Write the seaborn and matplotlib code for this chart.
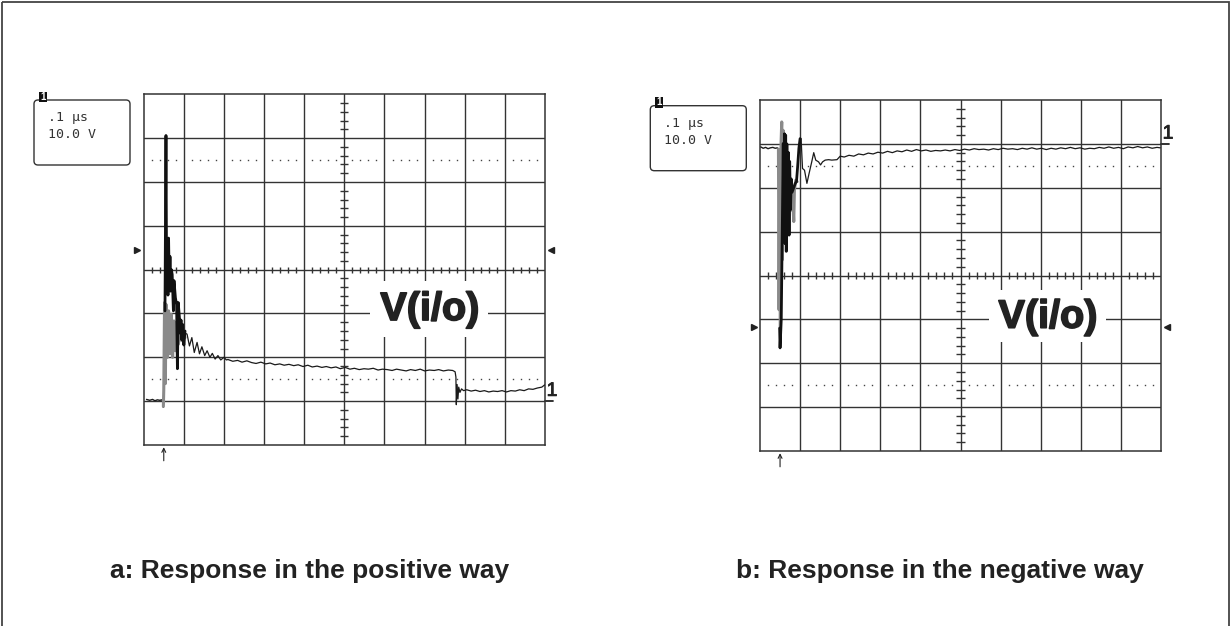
import numpy as np
import pandas as pd
import matplotlib
matplotlib.use("Agg")
import matplotlib.pyplot as plt
import matplotlib.patheffects as pe
from matplotlib.patches import Rectangle, FancyBboxPatch
import seaborn as sns

W, H = 1231, 626

# scope traces, in screen divisions (x: -5..5, y: -4..4)
# --- a: positive step ---
pos_base_t = [-4.93, -4.85, -4.78, -4.72, -4.66, -4.60, -4.55, -4.52, -4.51]
pos_base_v = [-2.96, -2.98, -2.96, -2.99, -2.97, -2.98, -2.97, -3.00, -3.14]

pos_gray_t = [-4.51, -4.50, -4.48, -4.46, -4.445, -4.41, -4.38, -4.345, -4.31,
              -4.28, -4.245, -4.21, -4.175, -4.135, -4.09, -4.05, -4.01, -3.97]
pos_gray_v = [-3.12, -2.75, -0.75, -2.60, -0.79, -2.00, -0.94, -1.92, -1.02,
              -2.00, -1.17, -1.85, -1.25, -1.70, -1.32, -1.62, -1.40, -1.55]

pos_black_t = [-4.47, -4.445, -4.43, -4.41, -4.395, -4.38, -4.36, -4.345, -4.33,
               -4.31, -4.29, -4.26, -4.245, -4.21, -4.18, -4.16, -4.14, -4.11,
               -4.09, -4.07, -4.05, -4.03, -4.00, -3.97]
pos_black_v = [-0.94, 3.06, -0.04, 0.68, -0.58, 0.72, -0.45, 0.30, -0.49,
               0.00, -0.11, -0.94, -0.25, -0.64, -0.80, -2.26, -0.75, -1.09,
               -1.45, -1.15, -1.60, -1.25, -1.72, -1.40]

pos_tail_t = [-3.97, -3.92, -3.86, -3.80, -3.74, -3.67, -3.61, -3.55, -3.48,
              -3.42, -3.35, -3.29, -3.22, -3.15, -3.08, -3.00, -2.94,
              -2.90, -2.78, -2.66, -2.55, -2.43, -2.31, -2.20, -2.08, -1.96, -1.85,
              -1.73, -1.61, -1.50, -1.38, -1.26, -1.15, -1.03, -0.91, -0.80, -0.68,
              -0.56, -0.45, -0.33, -0.21, -0.10, 0.02, 0.14, 0.25, 0.37, 0.49,
              0.60, 0.72, 0.84, 0.95, 1.07, 1.19, 1.30, 1.42, 1.54, 1.65,
              1.77, 1.89, 2.00, 2.12, 2.24, 2.35, 2.47, 2.59, 2.70, 2.76,
              2.78, 2.79, 2.81, 2.83, 2.85, 2.88, 2.92, 2.97,
              3.05, 3.16, 3.27, 3.38, 3.49, 3.60, 3.71, 3.82, 3.93, 4.04,
              4.15, 4.26, 4.37, 4.48, 4.59, 4.70, 4.81, 4.92, 4.99]
pos_tail_v = [-1.45, -1.47, -1.74, -1.55, -1.89, -1.66, -1.92, -1.76, -1.96,
              -1.85, -2.00, -1.91, -2.04, -1.96, -2.06, -2.00, -2.06,
              -2.05, -2.09, -2.07, -2.11, -2.08, -2.12, -2.14, -2.11, -2.15, -2.13,
              -2.17, -2.15, -2.18, -2.16, -2.19, -2.17, -2.21, -2.18, -2.22, -2.20,
              -2.23, -2.21, -2.24, -2.22, -2.26, -2.23, -2.27, -2.25, -2.28, -2.26,
              -2.27, -2.25, -2.29, -2.27, -2.28, -2.30, -2.27, -2.29, -2.31, -2.28,
              -2.30, -2.27, -2.31, -2.29, -2.30, -2.28, -2.31, -2.29, -2.30, -2.33,
              -2.45, -3.08, -2.62, -2.95, -2.68, -2.80, -2.72, -2.76,
              -2.74, -2.77, -2.75, -2.78, -2.76, -2.79, -2.77, -2.78, -2.76, -2.79,
              -2.76, -2.77, -2.74, -2.76, -2.72, -2.73, -2.70, -2.68, -2.63]

# --- b: negative step ---
neg_base_t = [-4.98, -4.92, -4.86, -4.80, -4.74, -4.68, -4.62, -4.57, -4.54]
neg_base_v = [2.93, 2.90, 2.92, 2.89, 2.91, 2.92, 2.90, 2.91, 2.88]

neg_gray_t = [-4.54, -4.525, -4.508, -4.492, -4.475, -4.458, -4.442, -4.425,
              -4.408, -4.392, -4.375, -4.358, -4.325, -4.292, -4.258, -4.225,
              -4.192, -4.158, -4.142, -4.108, -4.075]
neg_gray_v = [2.88, -0.78, 2.70, -1.23, 3.01, 3.50, 0.36, 3.31,
              0.73, 2.86, 1.11, 2.63, 1.27, 2.25, 1.95, 1.49,
              1.87, 1.23, 1.95, 2.17, 2.14]

neg_black_t = [-4.51, -4.50, -4.47, -4.42, -4.41, -4.39, -4.375, -4.36, -4.345,
               -4.33, -4.31, -4.29, -4.275, -4.26, -4.24, -4.22, -4.20, -4.12,
               -4.09, -4.06, -4.03, -4.00]
neg_black_v = [-1.20, -1.65, -1.00, 3.01, 0.90, 3.23, 0.73, 3.20, 0.55,
               3.00, 1.20, 2.80, 0.92, 2.60, 1.50, 2.20, 1.90, 2.10,
               2.14, 2.50, 2.90, 3.12]

neg_tail_t = [-3.975, -3.94, -3.89, -3.83, -3.775, -3.71, -3.66, -3.61, -3.54,
              -3.49, -3.44, -3.375, -3.29, -3.21, -3.08, -3.00,
              -2.90, -2.78, -2.66, -2.54, -2.42, -2.30, -2.18, -2.06, -1.94, -1.82,
              -1.70, -1.58, -1.46, -1.34, -1.22, -1.10, -0.98, -0.86, -0.74, -0.62,
              -0.50, -0.38, -0.26, -0.14, -0.02, 0.10, 0.22, 0.34, 0.46, 0.58,
              0.70, 0.82, 0.94, 1.06, 1.18, 1.30, 1.42, 1.54, 1.66, 1.78,
              1.90, 2.02, 2.14, 2.26, 2.38, 2.50, 2.62, 2.74, 2.86, 2.98,
              3.10, 3.22, 3.34, 3.46, 3.58, 3.70, 3.82, 3.94, 4.06, 4.18,
              4.30, 4.42, 4.54, 4.66, 4.78, 4.90, 4.98]
neg_tail_v = [3.12, 2.44, 2.40, 2.10, 2.33, 2.59, 2.80, 2.63, 2.59,
              2.52, 2.59, 2.63, 2.64, 2.63, 2.64, 2.72,
              2.70, 2.74, 2.72, 2.77, 2.75, 2.79, 2.77, 2.81, 2.79, 2.83,
              2.80, 2.84, 2.82, 2.86, 2.83, 2.87, 2.84, 2.86, 2.83, 2.85,
              2.84, 2.86, 2.84, 2.87, 2.85, 2.88, 2.86, 2.89, 2.87, 2.88,
              2.86, 2.89, 2.87, 2.90, 2.88, 2.89, 2.87, 2.90, 2.88, 2.91,
              2.88, 2.90, 2.87, 2.90, 2.88, 2.91, 2.89, 2.92, 2.89, 2.91,
              2.88, 2.90, 2.89, 2.92, 2.90, 2.93, 2.90, 2.92, 2.89, 2.93,
              2.91, 2.94, 2.91, 2.93, 2.90, 2.92, 2.91]

captions = ["a: Response in the positive way", "b: Response in the negative way"]
scope_info = [".1 \u00b5s", "10.0 V"]
signal_name = "V(i/o)"

GRID = "#333333"
INK = "#222222"

sns.set_style("white")
plt.rcParams["font.family"] = ["Liberation Sans", "DejaVu Sans"]

fig = plt.figure(figsize=(W / 100, H / 100), dpi=100)

# overlay in pixel coords for the frame, readout boxes and captions
ov = fig.add_axes([0, 0, 1, 1])
ov.set_xlim(0, W)
ov.set_ylim(H, 0)
ov.axis("off")
ov.add_patch(Rectangle((1.5, 1.5), 1227.5, 640, fill=False, edgecolor="#444444", lw=1.3))


def px_axes(x0, y0, x1, y1):
    return fig.add_axes([x0 / W, 1 - y1 / H, (x1 - x0) / W, (y1 - y0) / H])


def graticule(ax):
    ax.set_facecolor("white")
    for s in ax.spines.values():
        s.set_visible(True)
        s.set_color(GRID)
        s.set_linewidth(1.1)
    for k in range(-4, 5):
        ax.axvline(k, color=GRID, lw=1.0, zorder=1)
    for k in range(-3, 4):
        ax.axhline(k, color=GRID, lw=1.0, zorder=1)
    minor = np.round(np.arange(-5, 5.001, 0.2), 2)
    minor = minor[np.abs(minor - np.round(minor)) > 1e-6]
    ax.vlines(minor, -0.07, 0.07, color=GRID, lw=1.0, zorder=1)
    ymin = minor[np.abs(minor) < 4]
    ax.hlines(ymin, -0.1, 0.1, color=GRID, lw=1.0, zorder=1)
    for yd in (2.5, -2.5):
        ax.plot(minor, np.full_like(minor, yd), ls="none", marker="s", ms=1.0,
                mew=0, color="#444444", zorder=1)


def trace(ax, t, v, color, lw, z):
    df = pd.DataFrame({"t": t, "v": v})
    sns.lineplot(data=df, x="t", y="v", ax=ax, sort=False, estimator=None,
                 color=color, lw=lw, zorder=z)


def scope(box, base, gray, black, tail, gnd, mark_y, lab):
    x0, y0, x1, y1 = box
    ax = px_axes(x0, y0, x1, y1)
    graticule(ax)
    trace(ax, base[0], base[1], "#1a1a1a", 1.0, 5)
    trace(ax, tail[0], tail[1], "#1a1a1a", 0.9, 5)
    trace(ax, gray[0], gray[1], "#8a8a8a", 2.2, 6)
    trace(ax, black[0], black[1], "#111111", 2.0, 7)

    # label with a white patch over the graticule
    lx, ly, rx0, ry0, rx1, ry1 = lab
    ax.add_patch(Rectangle((rx0, ry0), rx1 - rx0, ry1 - ry0, facecolor="white",
                           edgecolor="none", zorder=3))
    ax.text(lx, ly, signal_name, ha="center", va="baseline", fontsize=28.5,
            fontweight="bold", color=INK, zorder=4,
            path_effects=[pe.withStroke(linewidth=1.2, foreground=INK)])

    # ground level marker "1" on the right edge
    ax.plot([5.0, 5.2], [gnd, gnd], color=INK, lw=1.3, clip_on=False)
    ax.text(5.04, gnd + 0.03, "1", ha="left", va="bottom", fontsize=14, color=INK,
            clip_on=False, path_effects=[pe.withStroke(linewidth=0.6, foreground=INK)])
    # small side triangles
    ax.plot([-5.16], [mark_y], marker=">", ms=4.5, color=INK, clip_on=False)
    ax.plot([5.14], [mark_y], marker="<", ms=4.5, color=INK, clip_on=False)
    # trigger arrow
    ax.annotate("", xy=(-4.5, -4.05), xytext=(-4.5, -4.36), annotation_clip=False,
                arrowprops=dict(arrowstyle="->", lw=0.8, color=INK, shrinkA=0,
                                shrinkB=0, mutation_scale=7))

    ax.set_xlim(-5, 5)
    ax.set_ylim(-4, 4)
    ax.set_xticks([])
    ax.set_yticks([])
    ax.set_xlabel("")
    ax.set_ylabel("")

    # readout box to the upper left
    bx, by = x0 - 109.7, y0 + 5.7
    ov.add_patch(FancyBboxPatch((bx, by), 96, 65, boxstyle="round,pad=0,rounding_size=4",
                                fill=False, edgecolor=GRID, lw=1.0))
    ov.add_patch(Rectangle((bx + 5, by - 8.5), 8, 10.5, facecolor="#111111", edgecolor="none"))
    ov.text(bx + 9, by - 3.3, "1", ha="center", va="center", fontsize=7,
            fontweight="bold", color="white")
    ov.text(bx + 14, by + 17.5, scope_info[0], ha="left", va="center",
            family="DejaVu Sans Mono", fontsize=9.5, color=GRID)
    ov.text(bx + 14, by + 34.5, scope_info[1], ha="left", va="center",
            family="DejaVu Sans Mono", fontsize=9.5, color=GRID)
    return ax


scope((143.7, 94.3, 545.0, 445.0),
      (pos_base_t, pos_base_v), (pos_gray_t, pos_gray_v),
      (pos_black_t, pos_black_v), (pos_tail_t, pos_tail_v),
      gnd=-3.0, mark_y=0.45, lab=(2.13, -1.15, 0.63, -1.53, 3.58, -0.27))

scope((760.0, 100.0, 1161.0, 451.0),
      (neg_base_t, neg_base_v), (neg_gray_t, neg_gray_v),
      (neg_black_t, neg_black_v), (neg_tail_t, neg_tail_v),
      gnd=3.0, mark_y=-1.18, lab=(2.18, -1.19, 0.72, -1.51, 3.64, -0.33))

ov.text(310, 578.3, captions[0], ha="center", va="baseline", fontsize=19,
        fontweight="bold", color=INK)
ov.text(940, 578.3, captions[1], ha="center", va="baseline", fontsize=19,
        fontweight="bold", color=INK)

fig.savefig("out.png", dpi=100)
